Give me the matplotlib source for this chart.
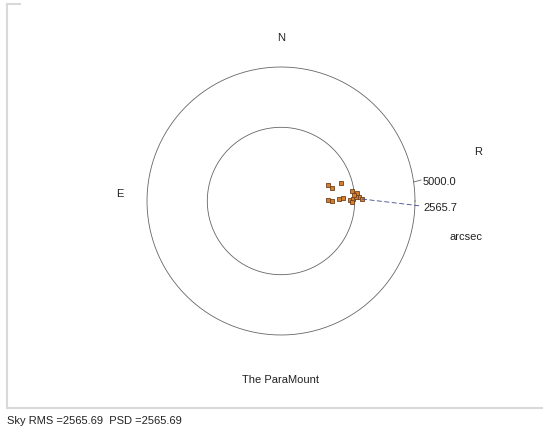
import numpy as np
import matplotlib
matplotlib.use('Agg')
from matplotlib import pyplot as plt

plt.rcParams['font.family'] = ['Liberation Sans', 'DejaVu Sans']

# radial plot values (arcsec)
outer_r = 5000.0
inner_r = 2750.0
rms = 2565.69
psd = 2565.69

# point offsets east/north of centre, arcsec
x_pts = [1753, 1902, 2238, 2648, 1753, 1902, 2163, 2313, 2574, 2686,
         2835, 2909, 3021, 2798, 2648, 2723]
y_pts = [597, 485, 671, 373, 37, 0, 75, 112, 37, 75,
         298, 149, 75, 149, -37, 224]

W, H = 543, 439
fig = plt.figure(figsize=(W / 100, H / 100), dpi=100)
ax = fig.add_axes([0, 0, 1, 1])
ax.set_axis_off()

# centre of the plot sits at pixel (281, 202), 5000 arcsec = 134 px
cx, cy = 281, 202
scale = outer_r / 134.0
ax.set_xlim(-cx * scale, (W - cx) * scale)
ax.set_ylim(-(H - cy) * scale, cy * scale)
ax.set_aspect('equal')

t = np.linspace(0, 2 * np.pi, 400)
ax.plot(outer_r * np.cos(t), outer_r * np.sin(t), color='#666666', lw=0.6)
ax.plot(inner_r * np.cos(t), inner_r * np.sin(t), color='#666666', lw=0.6)

ax.plot(x_pts, y_pts, 's', ms=3.5, mfc='#d27f30', mec='#70401a', mew=0.6)

# leader lines to the labels
a = np.arcsin(19 / 134.0)
ax.plot([outer_r * np.cos(a), 140 * scale], [outer_r * np.sin(a), 21 * scale],
        color='#666666', lw=0.6)
ax.plot([max(x_pts), 140 * scale], [75, -5 * scale], color='#3a4a8a', lw=0.6,
        dashes=(6, 3))

def fx(px):
    return px / W

def fy(py):
    return 1 - py / H

fs = 8
tc = '#222222'
fig.text(fx(281), fy(38), 'N', ha='center', va='center', fontsize=fs, color=tc)
fig.text(fx(120), fy(194), 'E', ha='center', va='center', fontsize=fs, color=tc)
fig.text(fx(478), fy(152), 'R', ha='center', va='center', fontsize=fs, color=tc)
fig.text(fx(423), fy(182), '%.1f' % outer_r, ha='left', va='center', fontsize=fs, color=tc)
fig.text(fx(423), fy(208), '%.1f' % rms, ha='left', va='center', fontsize=fs, color=tc)
fig.text(fx(466), fy(237), 'arcsec', ha='center', va='center', fontsize=fs, color=tc)
fig.text(fx(281), fy(380), 'The ParaMount', ha='center', va='center', fontsize=fs, color=tc)
fig.text(fx(7), fy(421), 'Sky RMS =%.2f  PSD =%.2f' % (rms, psd), ha='left',
         va='center', fontsize=fs, color=tc)

# light frame
fc = '#d9d9d9'
fig.add_artist(plt.Line2D([fx(7), fx(7)], [fy(5), fy(409)], color=fc, lw=1.5))
fig.add_artist(plt.Line2D([fx(7), fx(20)], [fy(5), fy(5)], color=fc, lw=1.5))
fig.add_artist(plt.Line2D([fx(7), fx(543)], [fy(409), fy(409)], color=fc, lw=1.5))

fig.savefig('out.png', dpi=100)
